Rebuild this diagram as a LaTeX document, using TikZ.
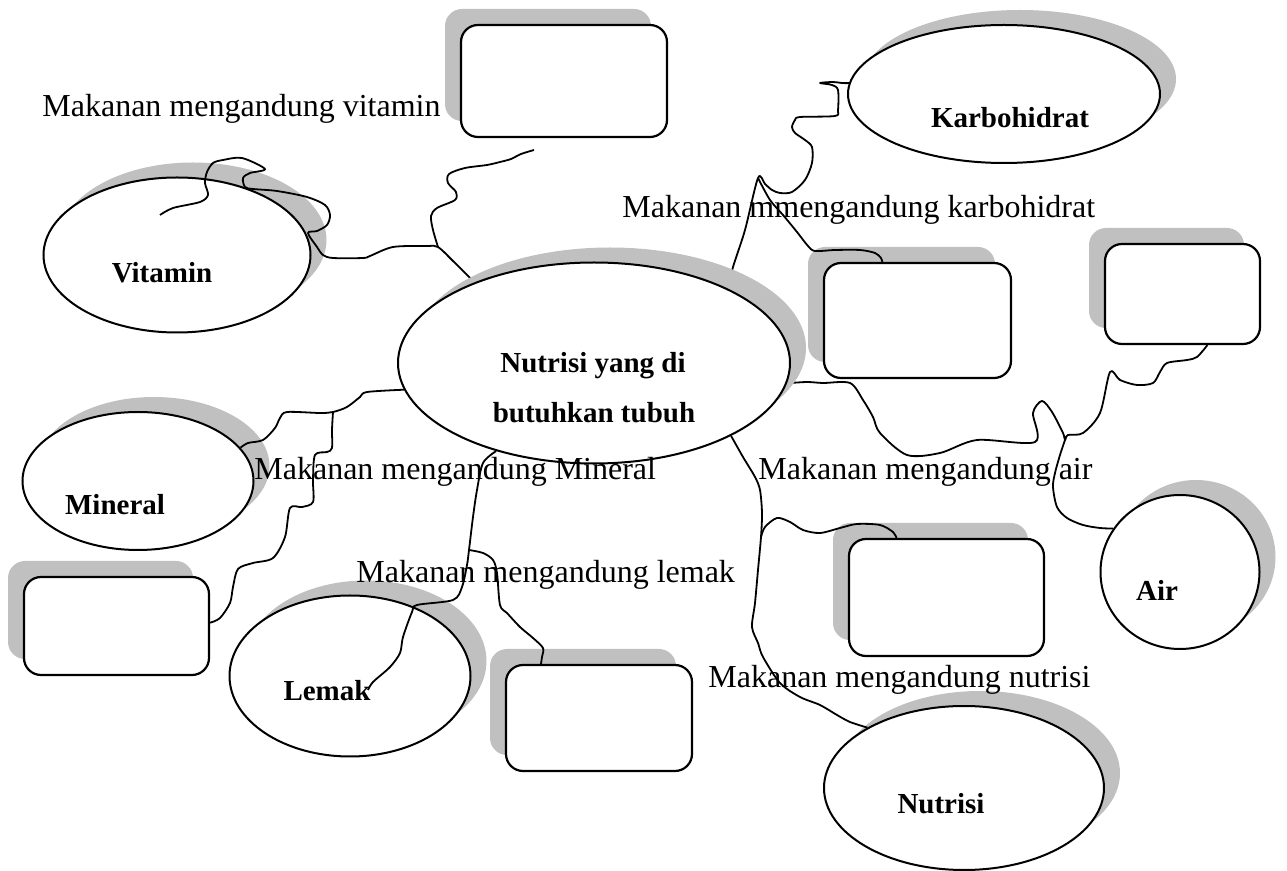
\documentclass[tikz,border=0pt]{standalone}
\usepackage{fontspec}
\setmainfont{Liberation Serif}
\usetikzlibrary{shapes.geometric, shadows}
\definecolor{shadegray}{RGB}{192,192,192}
\pgfdeclarelayer{back}
\pgfdeclarelayer{front}
\pgfsetlayers{back,main,front}

\begin{document}
\begin{tikzpicture}[x=0.5pt, y=-0.5pt,
  oval/.style={draw, ellipse, fill=white, line width=1pt, inner sep=0pt,
    general shadow={fill=shadegray, shadow xshift=8pt, shadow yshift=7.5pt}},
  box/.style={draw, rectangle, rounded corners=8.5pt, fill=white, line width=1.1pt, inner sep=0pt,
    general shadow={fill=shadegray, shadow xshift=-8pt, shadow yshift=8pt}},
  wire/.style={line width=0.9pt, line join=round},
  lbl/.style={anchor=base west, inner sep=0pt, font=\fontsize{16}{19}\selectfont},
  boldtxt/.style={anchor=base, inner sep=0pt, font=\fontsize{14.5}{17}\selectfont\bfseries}]
\useasboundingbox (0,0) rectangle (1287,871);

\begin{pgfonlayer}{front}
\node[oval, minimum width=196pt, minimum height=100.5pt] (c0) at (594,363) {};
\node[boldtxt] (t0a) at (593,373) {Nutrisi yang di};
\node[boldtxt] (t0b) at (594,423) {butuhkan tubuh};
\node[boldtxt] (t1) at (162,283) {Vitamin};
\node[boldtxt] (t2) at (1010,128) {Karbohidrat};
\node[boldtxt] (t3) at (115,515) {Mineral};
\node[boldtxt] (t4) at (327,701) {Lemak};
\node[boldtxt] (t5) at (941,813) {Nutrisi};
\node[boldtxt] (t6) at (1157,601) {Air};
\node[lbl] (l1) at (42,117) {Makanan mengandung vitamin};
\node[lbl] (l2) at (622,218) {Makanan mmengandung karbohidrat};
\node[lbl] (l3) at (254,480) {Makanan mengandung Mineral};
\node[lbl] (l4) at (758,480) {Makanan mengandung air};
\node[lbl] (l5) at (356,583) {Makanan mengandung lemak};
\node[lbl] (l6) at (708,688) {Makanan mengandung nutrisi};
\end{pgfonlayer}

\begin{pgfonlayer}{back}
\node[oval, minimum width=133.5pt, minimum height=77.5pt] (c1) at (177,255) {};
\node[oval, minimum width=156pt, minimum height=69pt] (c2) at (1004,94) {};
\node[oval, minimum width=115.5pt, minimum height=69pt] (c3) at (138,481) {};
\node[oval, minimum width=120.5pt, minimum height=80.5pt] (c4) at (350,676) {};
\node[oval, minimum width=140pt, minimum height=82pt] (c5) at (964,788) {};
\node[oval, minimum width=79.5pt, minimum height=77pt] (c6) at (1180,572) {};
\node[box, minimum width=103pt, minimum height=56pt] (b1) at (564,81) {};
\node[box, minimum width=93.5pt, minimum height=57.5pt] (b2) at (917.5,320.5) {};
\node[box, minimum width=77.5pt, minimum height=50pt] (b3) at (1182.5,294) {};
\node[box, minimum width=92.5pt, minimum height=49pt] (b4) at (116.5,626) {};
\node[box, minimum width=93pt, minimum height=53pt] (b5) at (599,718) {};
\node[box, minimum width=97.5pt, minimum height=58.5pt] (b6) at (946.5,597.5) {};
\end{pgfonlayer}

\coordinate (p1) at (160,215);
\coordinate (p2) at (534,150);
\coordinate (p3) at (368,690);
\coordinate (j1) at (438,247);
\coordinate (j2) at (758,178);
\coordinate (j3) at (1065,440);
\coordinate (j4) at (761,537);
\coordinate (j5) at (333,412);
\coordinate (j6) at (469,550);

\draw[wire] plot[smooth, tension=.5] coordinates {(p1) (173,208) (200,202) (208,195) (205,183) (207,172) (213,163) (223,160) (242,158) (265,169) (250,173) (243,178) (245,187) (253,189) (277,191) (307,197) (325,205) (330,215) (327,225) (317,231) (308,233) (317,247) (323,255) (333,258) (363,258) (370,256) (393,247) (427,246) (j1) (453,261) (c0.146)};
\draw[wire] plot[smooth, tension=.5] coordinates {(j1) (433,230) (431,216) (437,208) (455,200) (456,192) (448,183) (449,174) (465,168) (487,165) (500,162) (511,159) (521,154) (p2)};
\draw[wire] plot[smooth, tension=.5] coordinates {(c0.29) (733,267) (745,230) (j2) (765,184) (772,190) (780,193) (792,192) (805,180) (812,163) (812,147) (805,140) (795,133) (792,127) (795,120) (800,117) (835,116) (838,110) (838,90) (832,85) (820,83) (833,82) (842,83) (c2.176)};
\draw[wire] plot[smooth, tension=.5] coordinates {(j2) (770,200) (783,215) (797,232) (808,246) (815,251) (835,250) (860,250) (875,253) (881,258) (b2.121)};
\draw[wire] plot[smooth, tension=.5] coordinates {(c0.-6) (807,382) (823,383) (850,383) (863,400) (873,417) (880,433) (907,455) (940,453) (977,440) (1035,442) (1033,413) (1042,401) (1052,412) (1063,433) (j3) (1068,435) (1083,433) (1100,413) (1110,372) (1120,380) (1137,385) (1153,383) (1160,372) (1167,363) (1187,360) (1197,357) (b3.-64)};
\draw[wire] plot[smooth, tension=.5] coordinates {(j3) (1060,455) (1055,473) (1053,487) (1057,507) (1067,518) (1083,525) (1100,528) (c6.147)};
\draw[wire] plot[smooth, tension=.5] coordinates {(c0.-28) (743,457) (755,477) (760,490) (762,513) (j4) (758,570) (755,603) (752,627) (758,643) (763,657) (780,683) (800,697) (820,705) (837,715) (850,722) (c5.148)};
\draw[wire] plot[smooth, tension=.5] coordinates {(j4) (765,527) (777,518) (790,522) (803,530) (820,533) (840,528) (857,524) (880,525) (893,532) (b6.130)};
\draw[wire] plot[smooth, tension=.5] coordinates {(c0.188) (367,392) (360,397) (347,407) (j5) (320,413) (287,412) (280,418) (275,428) (263,440) (248,443) (c3.18)};
\draw[wire] plot[smooth, tension=.5] coordinates {(j5) (332,430) (332,448) (327,452) (315,455) (313,480) (313,502) (302,507) (290,508) (285,537) (273,558) (253,563) (238,569) (233,587) (230,603) (220,618) (b4.2)};
\draw[wire] plot[smooth, tension=.5] coordinates {(c0.-138) (483,463) (477,490) (473,517) (j6) (467,565) (462,587) (453,600) (417,605) (412,612) (403,637) (400,653) (390,667) (373,682) (p3)};
\draw[wire] plot[smooth, tension=.5] coordinates {(j6) (483,553) (493,560) (497,573) (500,605) (507,613) (520,627) (533,638) (543,648) (542,657) (b5.137)};
\end{tikzpicture}
\end{document}
